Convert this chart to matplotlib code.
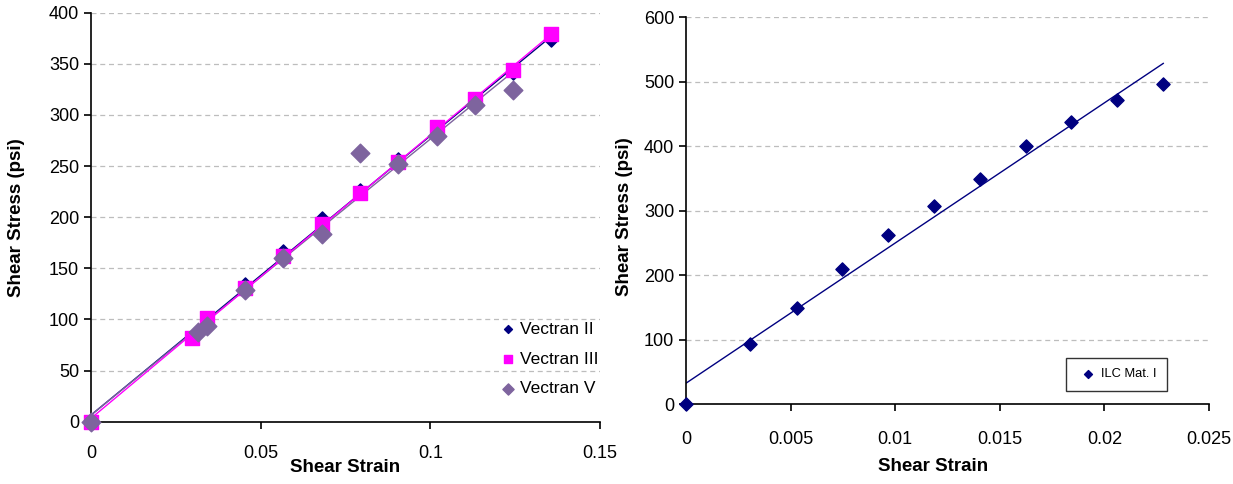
import matplotlib
matplotlib.use('Agg')
import matplotlib.pyplot as plt
import numpy as np

plt.rcParams['font.family'] = ['Liberation Sans', 'DejaVu Sans']

# left panel: Vectran layups
strain_v2 = [0.0, 0.0315, 0.0341, 0.0454, 0.0567, 0.068, 0.0792, 0.0906, 0.1019, 0.1132, 0.1245, 0.1357]
stress_v2 = [0, 88, 97, 135, 167, 199, 227, 257, 285, 314, 341, 373]
strain_v3 = [0.0, 0.0297, 0.0341, 0.0454, 0.0567, 0.068, 0.0792, 0.0906, 0.1019, 0.1132, 0.1245, 0.1357]
stress_v3 = [0, 82, 101, 131, 162, 193, 224, 254, 288, 316, 344, 379]
strain_v5 = [0.0, 0.0315, 0.0341, 0.0454, 0.0567, 0.068, 0.0792, 0.0906, 0.1019, 0.1132, 0.1245]
stress_v5 = [0, 88, 94, 129, 160, 184, 263, 252, 279, 310, 324]

# right panel: ILC material
strain_ilc = [0.0, 0.00308, 0.00529, 0.00747, 0.00966, 0.01184, 0.01405, 0.01624, 0.01842, 0.02061, 0.02281]
stress_ilc = [0, 93, 150, 209, 262, 307, 349, 400, 437, 471, 496]

NAVY = '#000080'
MAGENTA = '#ff00ff'
PURPLE = '#7e649e'


def trend(ax, x, y, color, lw=1.0):
    x = np.asarray(x)
    k, b = np.polyfit(x, np.asarray(y), 1)
    xs = np.array([x.min(), x.max()])
    ax.plot(xs, k * xs + b, color=color, lw=lw, zorder=2)


def style(ax, ymax, ystep, xmax, xstep, xpad):
    ax.set_xlim(0, xmax)
    ax.set_ylim(0, ymax)
    ax.set_xticks(np.arange(0, xmax + xstep / 2, xstep))
    ax.set_yticks(np.arange(0, ymax + ystep / 2, ystep))
    for s in ('top', 'right'):
        ax.spines[s].set_visible(False)
    for s in ('left', 'bottom'):
        ax.spines[s].set_linewidth(1.2)
    ax.yaxis.grid(True, color='#bdbdbd', ls=(0, (4, 3)), lw=0.9)
    ax.set_axisbelow(True)
    ax.tick_params(axis='both', direction='out', length=5, width=1.2, labelsize=13)
    ax.tick_params(axis='x', pad=xpad)


fig = plt.figure(figsize=(12.33, 4.84), dpi=100)

ax1 = fig.add_axes([0.0738, 0.1287, 0.4128, 0.845])
trend(ax1, strain_v2, stress_v2, NAVY)
trend(ax1, strain_v5, stress_v5, PURPLE)
trend(ax1, strain_v3, stress_v3, MAGENTA)
ax1.scatter(strain_v2, stress_v2, marker='D', s=45, color=NAVY, zorder=3, label='Vectran II', clip_on=False)
ax1.scatter(strain_v3, stress_v3, marker='s', s=90, color=MAGENTA, zorder=4, label='Vectran III', clip_on=False)
ax1.scatter(strain_v5, stress_v5, marker='D', s=90, color=PURPLE, zorder=5, label='Vectran V', clip_on=False)
style(ax1, 400, 50, 0.15, 0.05, 12)
ax1.set_xticklabels(['0', '0.05', '0.1', '0.15'])
ax1.set_xlabel('Shear Strain', fontsize=13.5, fontweight='bold')
ax1.set_ylabel('Shear Stress (psi)', fontsize=13.5, fontweight='bold')
ax1.xaxis.set_label_coords(0.5, -0.091)
ax1.yaxis.set_label_coords(-0.130, 0.5)
leg1 = ax1.legend(loc='upper left', bbox_to_anchor=(0.785, 0.262), frameon=False, fontsize=12.5,
                  handletextpad=0.1, labelspacing=0.85, borderaxespad=0, handlelength=1.2,
                  markerscale=0.6)

ax2 = fig.add_axes([0.5564, 0.1647, 0.4242, 0.7996])
trend(ax2, strain_ilc, stress_ilc, NAVY)
ax2.scatter(strain_ilc, stress_ilc, marker='D', s=45, color=NAVY, zorder=3, label='ILC Mat. I', clip_on=False)
style(ax2, 600, 100, 0.025, 0.005, 14)
ax2.set_xticklabels(['0', '0.005', '0.01', '0.015', '0.02', '0.025'])
ax2.set_xlabel('Shear Strain', fontsize=13.5, fontweight='bold')
ax2.set_ylabel('Shear Stress (psi)', fontsize=13.5, fontweight='bold')
ax2.xaxis.set_label_coords(0.472, -0.139)
ax2.yaxis.set_label_coords(-0.101, 0.484)
leg2 = ax2.legend(loc='upper left', bbox_to_anchor=(0.727, 0.12), frameon=True, fancybox=False,
                  fontsize=9.3, handletextpad=0.1, borderaxespad=0, handlelength=1.8,
                  markerscale=0.6, borderpad=0.8)
leg2.get_frame().set_edgecolor('black')
leg2.get_frame().set_linewidth(1.0)

fig.savefig('out.png', dpi=100)
